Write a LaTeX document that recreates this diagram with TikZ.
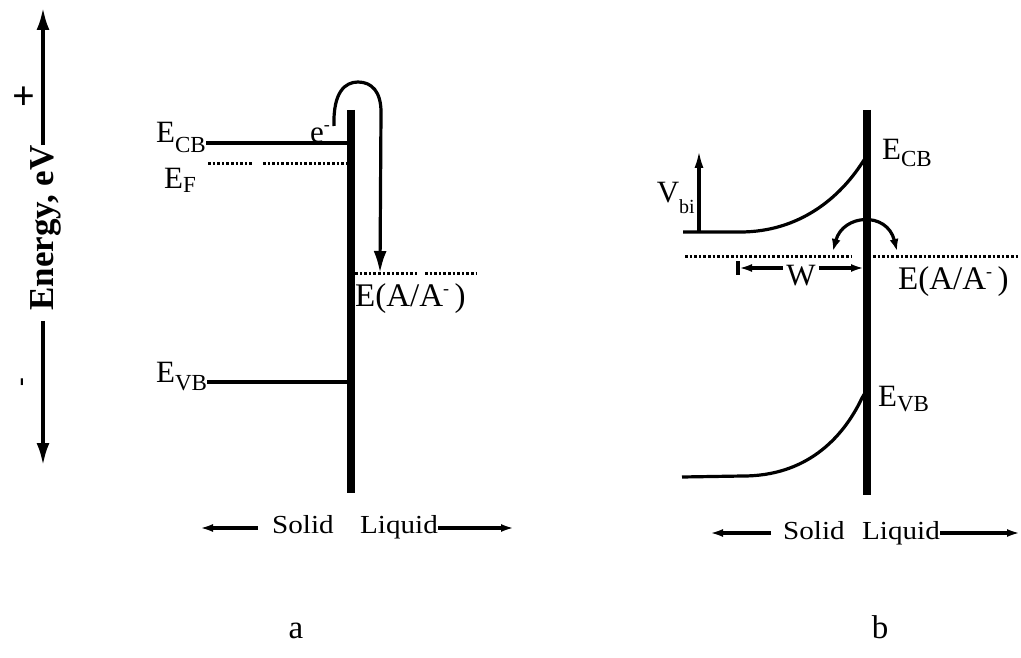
\documentclass[tikz,border=0pt]{standalone}
\usepackage{fontspec}
\setmainfont{Liberation Serif}
\newfontfamily\widefont[FakeStretch=1.12]{Liberation Serif}
\usetikzlibrary{arrows.meta}
\newcommand{\lowsub}[2][9pt]{\raisebox{-#1}{\fontsize{23}{23}\selectfont #2}}
\newcommand{\smallsub}[2][9pt]{\raisebox{-#1}{\fontsize{20}{20}\selectfont #2}}
\newcommand{\supminus}{\raisebox{12pt}{\fontsize{18}{18}\selectfont -}}
\begin{document}
\begin{tikzpicture}[x=1pt,y=-1pt,
  lab/.style={inner sep=0pt, font=\fontsize{31}{31}\selectfont},
  thinline/.style={line width=3.2pt},
  barline/.style={line width=8pt},
  dotline/.style={line width=3pt, dash pattern=on 2.6pt off 2pt},
  sl/.style={inner sep=0pt, font=\widefont\fontsize{26}{26}\selectfont},
  bigtip/.style={-{Latex[length=22pt,width=13pt]}},
  smalltip/.style={-{Latex[length=13pt,width=8pt]}},
  vtip/.style={-{Latex[length=18pt,width=9pt]}}
]
\useasboundingbox (0,0) rectangle (1021,658);

% ---------- energy axis ----------
\node[inner sep=0pt, rotate=90, anchor=base, font=\bfseries\fontsize{35}{35}\selectfont] (en) at (53,228) {Energy, eV};
\coordinate (axtop) at (43,8);
\coordinate (axbot) at (43,465);
\draw[thinline, bigtip] (axtop |- en.east) -- (axtop);
\draw[thinline, bigtip, shorten <=10pt] (axbot |- en.west) -- (axbot);
\node[inner sep=0pt, font=\bfseries\fontsize{40}{40}\selectfont] (plus) at (24,98) {+};
\node[inner sep=0pt, rotate=90, font=\bfseries\fontsize{26}{26}\selectfont] (minus) at (25,382) {-};

% ---------- panel a ----------
\coordinate (barAtop) at (351,110);
\coordinate (barAbot) at (351,493);
\draw[barline] (barAtop) -- (barAbot);

\node[lab, anchor=base west] (ecba) at (156,143) {E\lowsub[10pt]{CB}};
\draw[thinline] (ecba.base east) -- (ecba.base east -| barAtop);

\node[lab, anchor=base west] (efa) at (164,189) {E\lowsub[4pt]{F}};
\coordinate (efa1) at (208,164);
\coordinate (efa2) at (252,164);
\coordinate (efa3) at (263,164);
\coordinate (efa4) at (347,164);
\draw[dotline] (efa1) -- (efa2);
\draw[dotline] (efa3) -- (efa4);

\node[lab, anchor=base west] (evba) at (156,382) {E\lowsub[8pt]{VB}};
\draw[thinline] (evba.base east) -- (evba.base east -| barAtop);

\node[lab, anchor=base] (elec) at (320,143) {e\supminus};
\coordinate (redA) at (380,273);
\draw[thinline, bigtip] (334,126) .. controls (333,92) and (345,82) .. (358,82)
   .. controls (372,82) and (381,92) .. (381,112) -- (redA);

\coordinate (rda1) at (355,273);
\coordinate (rda2) at (418,273);
\coordinate (rda3) at (425,273);
\coordinate (rda4) at (477,273);
\draw[dotline] (rda1) -- (rda2);
\draw[dotline] (rda3) -- (rda4);
\node[lab, anchor=base west, font=\fontsize{33}{33}\selectfont] (ela) at (355,306) {E(A/A\supminus\,)};

\node[sl, anchor=base west] (solida) at (272,533) {Solid};
\node[sl, anchor=base west] (liquida) at (360,533) {Liquid};
\coordinate (sla) at (200,528);
\coordinate (lra) at (514,528);
\draw[thinline, smalltip] ([xshift=-14pt]solida.west |- sla) -- (sla);
\draw[thinline, smalltip] (liquida.east |- lra) -- (lra);

\node[inner sep=0pt, anchor=base, font=\fontsize{33}{33}\selectfont] (capa) at (296,638) {a};

% ---------- panel b ----------
\coordinate (barBtop) at (867,110);
\coordinate (barBbot) at (867,495);
\draw[barline] (barBtop) -- (barBbot);

\node[lab, anchor=base west] (ecbb) at (882,160) {E\lowsub[7pt]{CB}};
\node[lab, anchor=base west] (evbb) at (878,406) {E\lowsub[5pt]{VB}};

\coordinate (cb0) at (683,232);
\coordinate (cb1) at (740,232);
\coordinate (cb2) at (862,163);
\coordinate (cb3) at (866,157);
\draw[thinline] (cb0) -- (cb1) .. controls (800,232) and (840,197) .. (cb2) -- (cb3);

\coordinate (vb0) at (682,477);
\coordinate (vb1) at (743,476);
\coordinate (vb2) at (862,398);
\coordinate (vb3) at (865,393);
\draw[thinline] (vb0) -- (vb1) .. controls (805,476) and (842,440) .. (vb2) -- (vb3);

\coordinate (vbib) at (699,232);
\coordinate (vbit) at (699,150);
\draw[thinline, vtip] (vbib) -- (vbit);
\node[lab, anchor=base east] (vbi) at (695,203) {V\smallsub[11pt]{bi}};

\coordinate (rdb1) at (685,256);
\coordinate (rdb2) at (852,256);
\coordinate (rdb3) at (873,256);
\coordinate (rdb4) at (1018,256);
\draw[dotline] (rdb1) -- (rdb2);
\draw[dotline] (rdb3) -- (rdb4);
\node[lab, anchor=base west, font=\fontsize{33}{33}\selectfont] (elb) at (898,289) {E(A/A\supminus\,)};

\coordinate (exl) at (833,251);
\coordinate (exr) at (897,251);
\draw[thinline, {Latex[length=12pt,width=9pt]}-{Latex[length=12pt,width=9pt]}] (exl) .. controls (843,214) and (887,211) .. (exr);

\node[lab, anchor=base] (w) at (801,285) {W};
\coordinate (wl) at (739,268);
\coordinate (wr) at (864,268);
\draw[thinline, smalltip] ([xshift=-3pt]w.west |- wl) -- (wl);
\draw[thinline] (738,261) -- (738,275);
\draw[thinline, smalltip] ([xshift=3pt]w.east |- wr) -- (wr);

\node[sl, anchor=base west] (solidb) at (783,539) {Solid};
\node[sl, anchor=base west] (liquidb) at (862,539) {Liquid};
\coordinate (slb) at (710,533);
\coordinate (lrb) at (1020,533);
\draw[thinline, smalltip] ([xshift=-12pt]solidb.west |- slb) -- (slb);
\draw[thinline, smalltip] (liquidb.east |- lrb) -- (lrb);

\node[inner sep=0pt, anchor=base, font=\fontsize{33}{33}\selectfont] (capb) at (880,638) {b};
\end{tikzpicture}
\end{document}
